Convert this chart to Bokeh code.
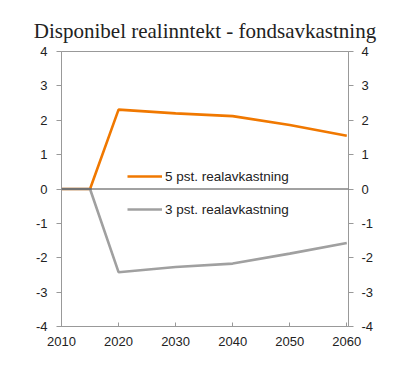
from bokeh.plotting import figure
from bokeh.models import Span, LinearAxis, Range1d, Legend, LegendItem, Title, FixedTicker, CustomJSTickFormatter
from bokeh.embed import file_html
from bokeh.resources import INLINE

years = [2010, 2015, 2020, 2030, 2040, 2050, 2060]
pst5 = [0, 0, 2.31, 2.2, 2.12, 1.86, 1.55]
pst3 = [0, 0, -2.42, -2.27, -2.17, -1.88, -1.57]
x_ticks = [2010, 2020, 2030, 2040, 2050, 2060]
y_ticks = [-4, -3, -2, -1, 0, 1, 2, 3, 4]

p = figure(width=392, height=357, output_backend="svg", toolbar_location=None,
           x_range=Range1d(2010, 2060.3), y_range=Range1d(-4, 4),
           min_border_left=61, min_border_right=44, min_border_top=51, min_border_bottom=31)
p.background_fill_color = "white"
p.border_fill_color = "white"
p.outline_line_color = "#999999"
p.outline_line_width = 1
p.xgrid.visible = False
p.ygrid.visible = False

font = "Liberation Sans"
fmt = CustomJSTickFormatter(code="return tick.toString();")


def style(ax):
    ax.axis_line_color = "#999999"
    ax.major_tick_line_color = "#999999"
    ax.minor_tick_line_color = None
    ax.major_label_text_font = font
    ax.major_label_text_font_size = "13px"
    ax.major_label_text_color = "#222222"
    ax.formatter = fmt


style(p.xaxis[0])
style(p.yaxis[0])

p.xaxis.ticker = FixedTicker(ticks=x_ticks)
p.xaxis.major_tick_in = 4
p.xaxis.major_tick_out = 0
p.xaxis.major_label_standoff = 10

p.yaxis.ticker = FixedTicker(ticks=y_ticks)
p.yaxis.major_tick_in = 0
p.yaxis.major_tick_out = 5
p.yaxis.major_label_standoff = 9

ry = LinearAxis(ticker=FixedTicker(ticks=y_ticks))
style(ry)
ry.major_tick_in = 0
ry.major_tick_out = 5
ry.major_label_standoff = 8
p.add_layout(ry, "right")

r5 = p.line(years, pst5, line_color="#F07800", line_width=2.6)
r3 = p.line(years, pst3, line_color="#A0A0A0", line_width=2.6)
p.add_layout(Span(location=0, dimension="width", line_color="#444444", line_width=1))

legend = Legend(items=[LegendItem(label="5 pst. realavkastning", renderers=[r5]),
                       LegendItem(label="3 pst. realavkastning", renderers=[r3])],
                location=(66, 107), orientation="vertical")
legend.background_fill_alpha = 0
legend.border_line_color = None
legend.padding = 0
legend.margin = 0
legend.spacing = 13
legend.glyph_width = 35
legend.glyph_height = 20
legend.label_standoff = 3
legend.label_text_font = font
legend.label_text_font_size = "13.5px"
legend.label_text_color = "#222222"
p.add_layout(legend, "center")

p.title = Title(text="Disponibel realinntekt - fondsavkastning", align="center",
                text_font="Liberation Serif", text_font_size="21px",
                text_font_style="normal", text_color="#222222", standoff=18)

open("out.html", "w").write(file_html(p, INLINE))
